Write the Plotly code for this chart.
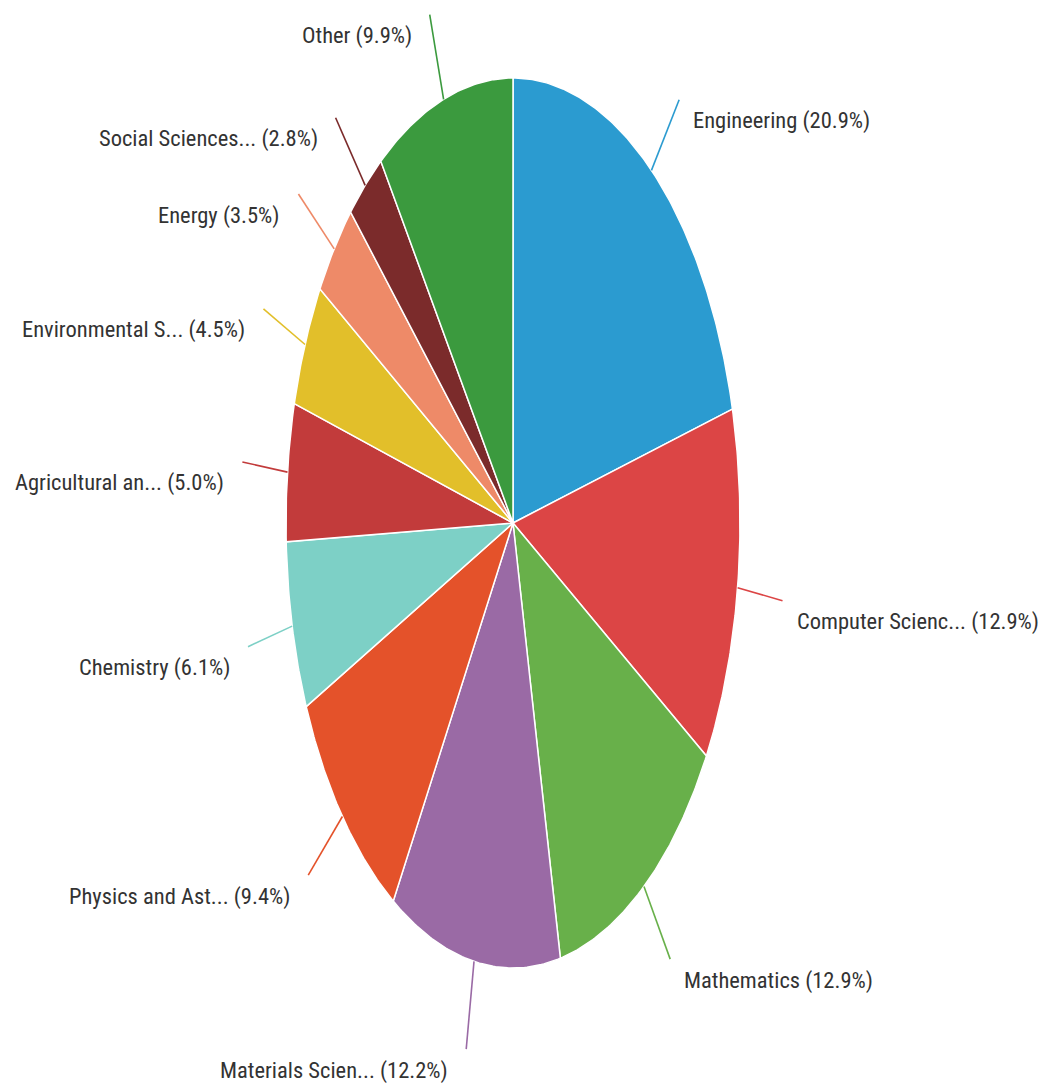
import numpy as np
import plotly.graph_objects as go

# ---- data ----
categories = ["Engineering", "Computer Scienc...", "Mathematics", "Materials Scien...",
              "Physics and Ast...", "Chemistry", "Agricultural an...", "Environmental S...",
              "Energy", "Social Sciences...", "Other"]
shares = [20.9, 12.9, 12.9, 12.2, 9.4, 6.1, 5.0, 4.5, 3.5, 2.8, 9.9]
colors = ["#2b9bd0", "#dc4545", "#68b04a", "#9a6aa5", "#e4522a", "#7dd0c6",
          "#c23b3b", "#e2bf2a", "#ee8a68", "#7b2b2b", "#3b9a3e"]

# ---- layout constants (axis units == page pixels) ----
W, H = 1048, 1084
PAD = 8  # body margin of the html page
CX, CY = 513, 523
RX, RY = 227, 445
FONT = "Liberation Sans Narrow, Arial Narrow, Roboto Condensed, Roboto, sans-serif"

total = sum(shares)
fig = go.Figure()
annotations = []
start = 0.0
for name, v, c in zip(categories, shares, colors):
    a0 = 2 * np.pi * start / total
    a1 = 2 * np.pi * (start + v) / total
    t = np.linspace(a0, a1, max(8, int(v * 6)))
    xs = np.concatenate([[CX], CX + RX * np.sin(t), [CX]])
    ys = np.concatenate([[CY], CY - RY * np.cos(t), [CY]])
    fig.add_trace(go.Scatter(x=xs, y=ys, fill="toself", fillcolor=c, mode="lines",
                             line=dict(color="white", width=1.5), hoverinfo="text",
                             text=f"{name} ({v:.1f}%)", showlegend=False))
    # leader line
    m = (a0 + a1) / 2
    sx, sy = CX + RX * np.sin(m), CY - RY * np.cos(m)
    ex, ey = CX + 1.2 * RX * np.sin(m), CY - 1.2 * RY * np.cos(m)
    fig.add_trace(go.Scatter(x=[sx, ex], y=[sy, ey], mode="lines",
                             line=dict(color=c, width=1.6), hoverinfo="skip",
                             showlegend=False))
    right = np.sin(m) > 0
    annotations.append(dict(
        x=ex + (12 if right else -16), y=ey + 21, xref="x", yref="y",
        text=f"{name} ({v:.1f}%)", showarrow=False,
        xanchor="left" if right else "right", yanchor="middle",
        font=dict(family=FONT, size=22.5, color="#333333")))
    start += v

fig.update_layout(
    width=W - PAD, height=H - PAD, margin=dict(l=0, r=0, t=0, b=0),
    paper_bgcolor="white", plot_bgcolor="white",
    xaxis=dict(range=[PAD, W], visible=False, fixedrange=True),
    yaxis=dict(range=[H, PAD], visible=False, fixedrange=True),
    annotations=annotations,
)
fig.write_html("out.html")
